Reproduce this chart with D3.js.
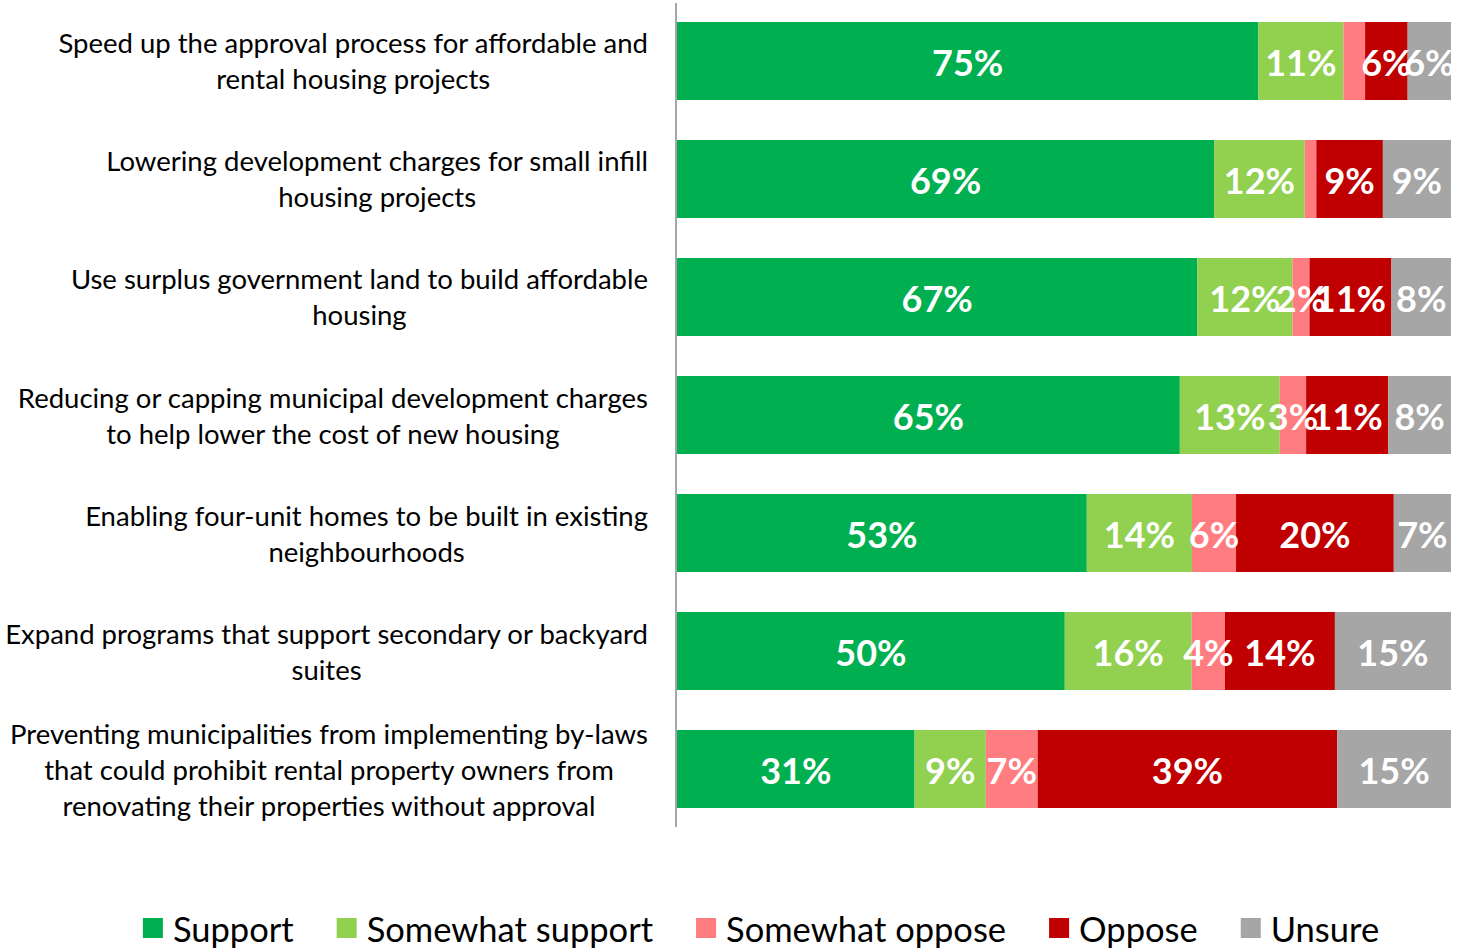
<!DOCTYPE html>
<meta charset="utf-8">
<style>
body { margin: 0; background: #fff; }
.cat text { font: 27.5px Lato, sans-serif; fill: #000; }
.val { font: bold 36px Lato, sans-serif; fill: #fff; }
.legend text { font: 34.5px Lato, sans-serif; fill: #000; }
</style>
<svg width="1460" height="951"></svg>
<script src="https://cdn.jsdelivr.net/npm/d3@7"></script>
<script>

// Statements, already broken into lines the way the picture shows them
var categories = [
  ["Speed up the approval process for affordable and", "rental housing projects"],
  ["Lowering development charges for small infill", "housing projects"],
  ["Use surplus government land to build affordable", "housing"],
  ["Reducing or capping municipal development charges", "to help lower the cost of new housing"],
  ["Enabling four-unit homes to be built in existing", "neighbourhoods"],
  ["Expand programs that support secondary or backyard", "suites"],
  ["Preventing municipalities from implementing by-laws", "that could prohibit rental property owners from", "renovating their properties without approval"]
];

var series = ["Support", "Somewhat support", "Somewhat oppose", "Oppose", "Unsure"];

// percentages
var support         = [75.1, 69.4, 67.3, 64.9, 53.0, 50.1, 30.7];
var somewhatSupport = [11.0, 11.7, 12.3, 12.9, 13.6, 16.4, 9.2];
var somewhatOppose  = [2.8, 1.5, 2.2, 3.4, 5.7, 4.3, 6.7];
var oppose          = [5.5, 8.6, 10.6, 10.6, 20.4, 14.2, 38.7];
var unsure          = [5.6, 8.8, 7.7, 8.1, 7.4, 15.0, 14.7];

// data labels that the original chart leaves out
var hiddenLabels = [[0, "Somewhat oppose"], [1, "Somewhat oppose"]];

var colors = ["#00b050", "#92d050", "#ff7c80", "#c00000", "#a6a6a6"];

var svg = d3.select("svg");

var rows = categories.map(function(c, i) {
  return {
    id: i,
    "Support": support[i],
    "Somewhat support": somewhatSupport[i],
    "Somewhat oppose": somewhatOppose[i],
    "Oppose": oppose[i],
    "Unsure": unsure[i]
  };
});

var stacked = d3.stack().keys(series).offset(d3.stackOffsetExpand)(rows);

var x = d3.scaleLinear().domain([0, 1]).range([677, 1451]);

var y = d3.scaleBand()
    .domain(d3.range(categories.length))
    .range([3, 827])
    .paddingInner(0.339)
    .paddingOuter(0.161);

var color = d3.scaleOrdinal().domain(series).range(colors);

var layer = svg.append("g").selectAll("g")
  .data(stacked).enter().append("g")
    .attr("fill", function(d) { return color(d.key); });

layer.selectAll("rect")
  .data(function(d) { return d; })
  .enter().append("rect")
    .attr("x", function(d) { return x(d[0]); })
    .attr("width", function(d) { return x(d[1]) - x(d[0]); })
    .attr("y", function(d, i) { return y(i); })
    .attr("height", y.bandwidth());

// value labels
stacked.forEach(function(s) {
  svg.append("g").selectAll("text")
    .data(s.filter(function(d, i) {
      return !hiddenLabels.some(function(h) { return h[0] === i && h[1] === s.key; });
    }))
    .enter().append("text")
      .attr("class", "val")
      .attr("text-anchor", "middle")
      .attr("dominant-baseline", "central")
      .attr("x", function(d) { return (x(d[0]) + x(d[1])) / 2; })
      .attr("y", function(d) { return y(d.data.id) + y.bandwidth() / 2 + 1; })
      .text(function(d) { return Math.round(d.data[s.key]) + "%"; });
});

// category axis line
svg.append("line")
    .attr("x1", 676).attr("x2", 676)
    .attr("y1", y.range()[0]).attr("y2", y.range()[1])
    .attr("stroke", "#a6a6a6")
    .attr("stroke-width", 2);

// category labels: centred block, right edge against the axis
var cat = svg.append("g").attr("class", "cat");
categories.forEach(function(lines, i) {
  var g = cat.append("g");
  var cy = y(i) + y.bandwidth() / 2;
  var t = g.selectAll("text").data(lines).enter().append("text")
      .attr("text-anchor", "middle")
      .attr("dominant-baseline", "central")
      .attr("y", function(d, j) { return cy + (j - (lines.length - 1) / 2) * 36; })
      .text(function(d) { return d; });
  var w = d3.max(t.nodes(), function(n) { return n.getComputedTextLength(); });
  t.attr("x", 648 - w / 2);
});

// legend
var legend = svg.append("g").attr("class", "legend");
var lx = 0;
series.forEach(function(s) {
  var item = legend.append("g").attr("transform", "translate(" + lx + ",0)");
  item.append("rect").attr("x", 0).attr("y", -10).attr("width", 20).attr("height", 20)
      .attr("fill", color(s));
  var t = item.append("text").attr("x", 30).attr("y", 0)
      .attr("dominant-baseline", "central").text(s);
  lx += 30 + t.node().getComputedTextLength() + 43;
});
lx -= 43;
legend.attr("transform", "translate(" + (761 - lx / 2) + ",928)");

</script>
